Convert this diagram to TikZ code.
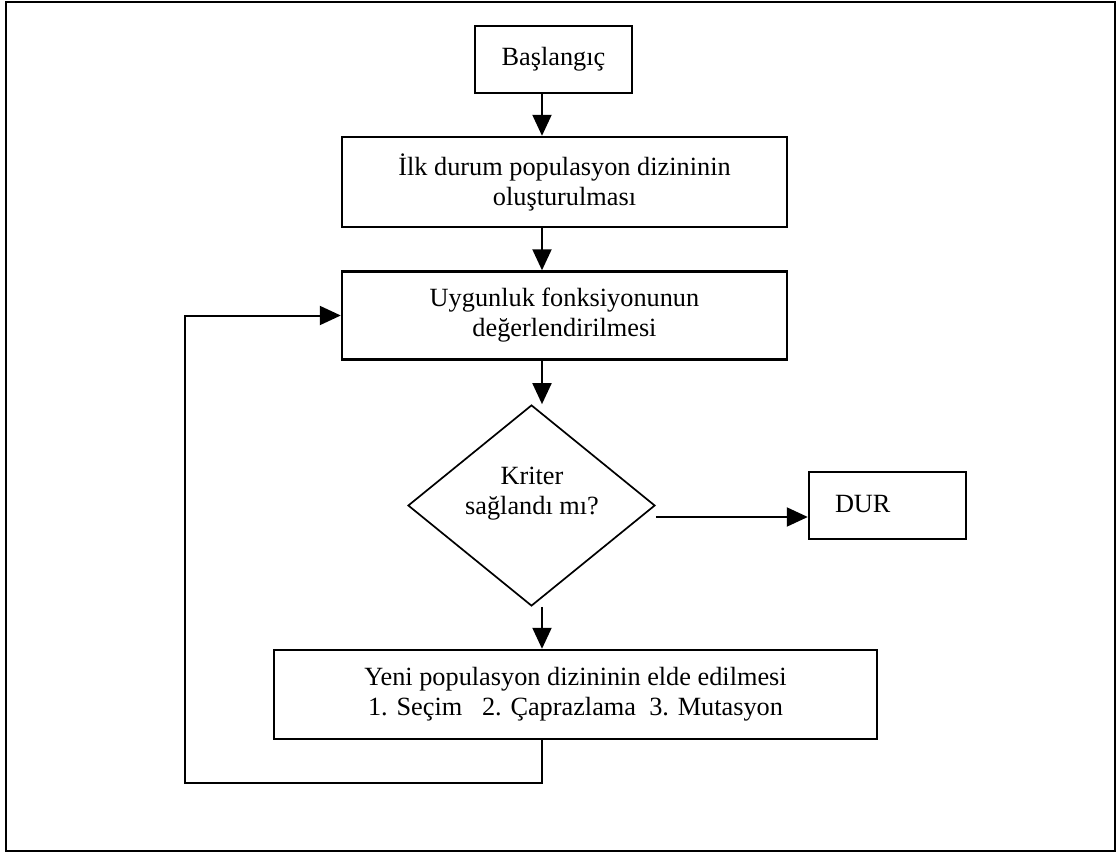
\documentclass[tikz,border=0pt]{standalone}
\usepackage{fontspec}
\setmainfont{Liberation Serif}
\usetikzlibrary{arrows.meta,shapes.geometric}
\begin{document}
\begin{tikzpicture}[x=1pt,y=-1pt,
  lbl/.style={font=\fontsize{26.3pt}{30pt}\selectfont},
  box/.style={draw, line width=2.4pt, inner sep=0pt, align=center, lbl},
  dec/.style={draw, diamond, line width=1.7pt, inner sep=0pt, minimum width=247pt, minimum height=201pt},
  txt/.style={inner sep=0pt, align=center, lbl},
  conn/.style={line width=2pt},
  arr/.style={conn, -{Triangle[length=21pt,width=19pt]}}]
\useasboundingbox (0,0) rectangle (1117,853);
\draw[line width=2.8pt] (6,2) rectangle (1115,851);

\node[box, minimum width=157pt, minimum height=67pt] (bas) at (553.5,59.5) {Başlangıç};
\node[box, minimum width=445pt, minimum height=90pt] (ilk) at (564.5,182) {İlk durum populasyon dizininin\\oluşturulması};
\node[box, minimum width=445pt, minimum height=88pt] (uyg) at (564.5,315.5) {Uygunluk fonksiyonunun\\değerlendirilmesi};
\node[dec] (dia) at (531.5,505.5) {};
\node[txt] (diat) at (532,494) {Kriter\\sağlandı mı?};
\node[box, minimum width=157pt, minimum height=67pt, text width=105pt, align=left] (dur) at (887.5,505.5) {\raisebox{4pt}{DUR}};
\node[box, minimum width=603pt, minimum height=89pt] (yeni) at (575.5,694.5) {Yeni populasyon dizininin elde edilmesi\\1. Seçim \ \ 2. Çaprazlama \ 3. Mutasyon};

\coordinate (ax) at (542,0);
\coordinate (dy) at (0,517);
\coordinate (fb) at (185,783);

\draw[arr] (bas.south -| ax) -- (ilk.north -| ax);
\draw[arr] (ilk.south -| ax) -- (uyg.north -| ax);
\draw[arr] (uyg.south -| ax) -- (dia.north -| ax);
\draw[arr] (dia.east |- dy) -- (dur.west |- dy);
\draw[arr] (dia.south -| ax) -- (yeni.north -| ax);
\draw[arr] (yeni.south -| ax) |- (fb) |- (uyg.west);
\end{tikzpicture}
\end{document}
